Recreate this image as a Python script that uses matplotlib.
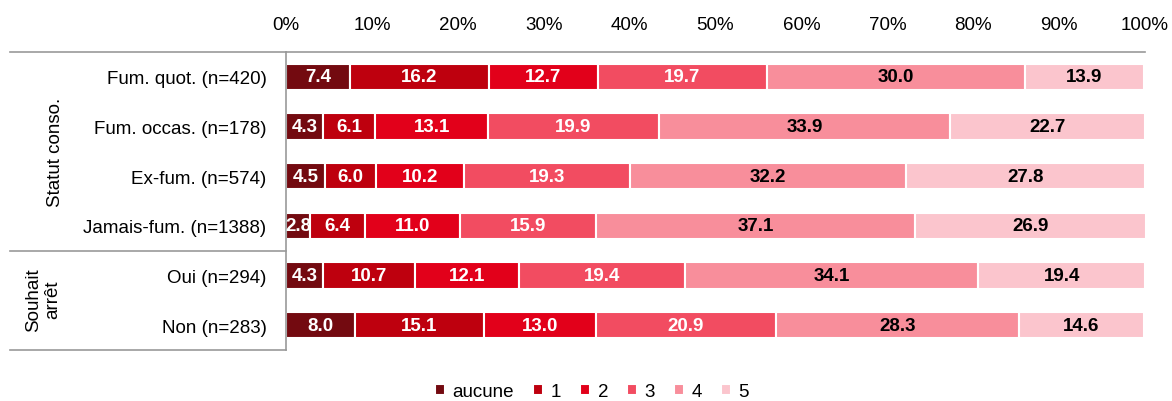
import matplotlib.pyplot as plt
from matplotlib.lines import Line2D
import numpy as np

plt.rcParams['font.family'] = ['Liberation Sans', 'DejaVu Sans']

rows = ['Fum. quot. (n=420)', 'Fum. occas. (n=178)', 'Ex-fum. (n=574)',
        'Jamais-fum. (n=1388)', 'Oui (n=294)', 'Non (n=283)']
cats = ['aucune', '1', '2', '3', '4', '5']
aucune = [7.4, 4.3, 4.5, 2.8, 4.3, 8.0]
un = [16.2, 6.1, 6.0, 6.4, 10.7, 15.1]
deux = [12.7, 13.1, 10.2, 11.0, 12.1, 13.0]
trois = [19.7, 19.9, 19.3, 15.9, 19.4, 20.9]
quatre = [30.0, 33.9, 32.2, 37.1, 34.1, 28.3]
cinq = [13.9, 22.7, 27.8, 26.9, 19.4, 14.6]
series = [aucune, un, deux, trois, quatre, cinq]
colors = ['#730a10', '#be000e', '#e2001a', '#f24c61', '#f88e9b', '#fbc5cd']
txtcol = ['white', 'white', 'white', 'white', 'black', 'black']

fs = 13.5

fig = plt.figure(figsize=(11.72, 4.02), dpi=100)
ax = fig.add_axes([0.244, 0.127, 0.733, 0.741])

y = np.arange(len(rows))
left = np.zeros(len(rows))
for vals, c, tc, lab in zip(series, colors, txtcol, cats):
    vals = np.array(vals)
    bars = ax.barh(y, vals, left=left, height=0.53, color=c, edgecolor='white',
                   linewidth=1.5, label=lab)
    for b, v in zip(bars, vals):
        ax.text(b.get_x() + b.get_width() / 2, b.get_y() + b.get_height() / 2,
                f'{v:.1f}', ha='center', va='center', color=tc,
                fontsize=fs, fontweight='bold')
    left += vals

ax.set_xlim(0, 100)
ax.set_ylim(len(rows) - 0.5, -0.5)
ax.set_yticks(y)
ax.set_yticklabels(rows, fontsize=fs)
ax.set_xticks(np.arange(0, 101, 10))
ax.set_xticklabels([f'{t}%' for t in range(0, 101, 10)], fontsize=fs)
ax.xaxis.tick_top()
ax.tick_params(axis='y', length=0, pad=14)
ax.tick_params(axis='x', length=0, pad=14)
for s in ['bottom', 'right']:
    ax.spines[s].set_visible(False)
for s in ['top', 'left']:
    ax.spines[s].set_color('#999999')
    ax.spines[s].set_linewidth(1.2)

# lignes du tableau à gauche
def hline(yf, x0, x1):
    fig.add_artist(Line2D([x0, x1], [yf, yf], transform=fig.transFigure,
                          color='#999999', lw=1.2))

x0 = 10 / 1172
hline(1 - 53 / 402, x0, 0.244)
hline(1 - 252 / 402, x0, 0.244)
hline(1 - 351 / 402, x0, 0.244)

fig.text(55 / 1172, 1 - 152 / 402, 'Statut conso.', rotation=90, ha='center',
         va='center', fontsize=fs)
fig.text(43 / 1172, 1 - 300 / 402, 'Souhait\narrêt', rotation=90, ha='center',
         va='center', fontsize=fs, linespacing=1.15)

fig.legend(loc='lower center', bbox_to_anchor=(0.505, -0.04), ncol=6,
           frameon=False, fontsize=fs, handlelength=0.55, handleheight=0.55,
           handletextpad=0.4, columnspacing=1.0)

fig.savefig('out.png', dpi=100)
